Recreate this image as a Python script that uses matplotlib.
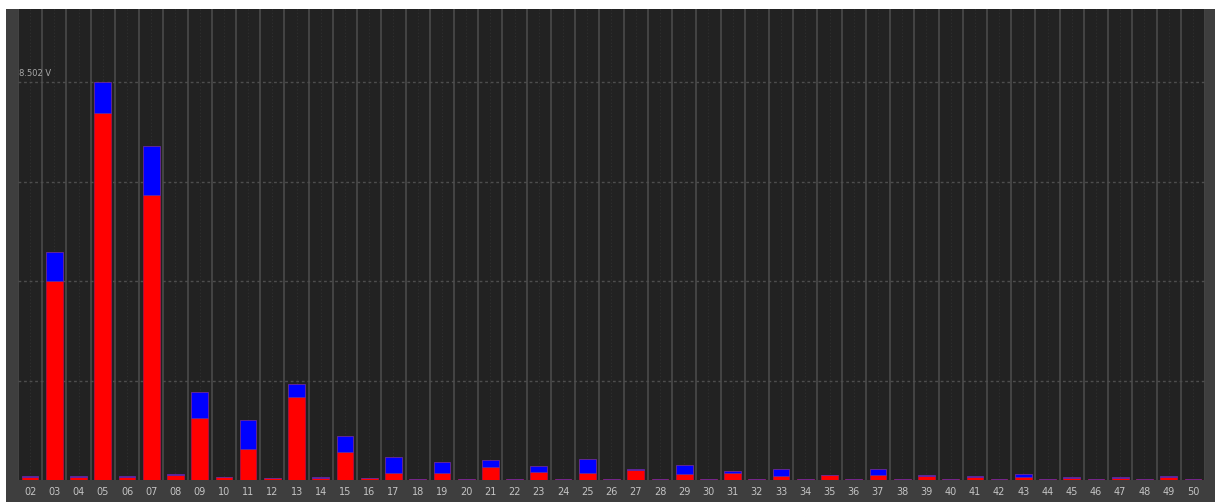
import matplotlib
matplotlib.use("Agg")
import matplotlib.pyplot as plt
import numpy as np

harmonics = [f"{i:02d}" for i in range(2, 51)]
red_vals = [0.07, 4.25, 0.07, 7.84, 0.07, 6.09, 0.10, 1.32, 0.06, 0.66,
            0.04, 1.77, 0.05, 0.60, 0.04, 0.16, 0.015, 0.16, 0.025, 0.27,
            0.015, 0.18, 0.012, 0.14, 0.025, 0.21, 0.025, 0.13, 0.015, 0.14,
            0.025, 0.09, 0.015, 0.10, 0.025, 0.11, 0.012, 0.08, 0.025, 0.07,
            0.012, 0.07, 0.012, 0.05, 0.025, 0.05, 0.012, 0.07, 0.012]
total_vals = [0.085, 4.87, 0.085, 8.502, 0.085, 7.14, 0.12, 1.88, 0.07, 1.28,
              0.05, 2.05, 0.06, 0.93, 0.05, 0.50, 0.02, 0.38, 0.03, 0.42,
              0.02, 0.30, 0.015, 0.44, 0.03, 0.23, 0.03, 0.33, 0.02, 0.19,
              0.03, 0.23, 0.02, 0.11, 0.03, 0.24, 0.015, 0.11, 0.03, 0.085,
              0.015, 0.13, 0.015, 0.06, 0.03, 0.06, 0.015, 0.09, 0.015]
blue_vals = [t - r for t, r in zip(total_vals, red_vals)]
ref_value = 8.502
ref_label = "8.502 V"

W, H = 1215, 504
fig = plt.figure(figsize=(W / 100, H / 100), dpi=100, facecolor="white")

# outer gray frame
bg = fig.add_axes([6 / W, (H - 502) / H, (W - 6) / W, (502 - 9) / H], zorder=-5)
bg.set_facecolor("#3e3e3e")
bg.set_xticks([])
bg.set_yticks([])
for s in bg.spines.values():
    s.set_visible(False)

ax = fig.add_axes([18 / W, (H - 480) / H, (1205 - 18) / W, (480 - 9) / H], zorder=1)
ax.set_facecolor("#222222")
n = len(harmonics)
x = np.arange(n)
ax.set_xlim(-0.5, n - 0.5)
ymax = ref_value * (480 - 9) / (480 - 82)
ax.set_ylim(0, ymax)

# category separators
for b in np.arange(-0.5, n + 0.5, 1.0):
    ax.axvline(b, color="#474747", lw=1.3, zorder=1)
for c in x:
    ax.axvline(c, color="#303030", lw=0.8, ls=(0, (1, 2)), zorder=1)
for k in range(1, 5):
    ax.axhline(ref_value * k / 4, color="#4e4e4e", lw=1.0, ls=(0, (2, 2)), zorder=1)

bw = 0.69
ax.bar(x, red_vals, width=bw, color="#ff0000", edgecolor="#b01040", lw=0.6, zorder=3)
ax.bar(x, blue_vals, bottom=red_vals, width=bw, color="#0000ff",
       edgecolor="#6a2a9a", lw=0.6, zorder=3)

ax.text(-0.45, ref_value + 0.08, ref_label, color="#a8a8a8", fontsize=6,
        ha="left", va="bottom", zorder=4)

ax.set_xticks(x)
ax.set_xticklabels(harmonics, color="#c4c4c4", fontsize=7)
ax.tick_params(axis="x", length=0, pad=5)
ax.set_yticks([])
for s in ax.spines.values():
    s.set_visible(False)

fig.savefig("out.png", dpi=100, facecolor="white")
